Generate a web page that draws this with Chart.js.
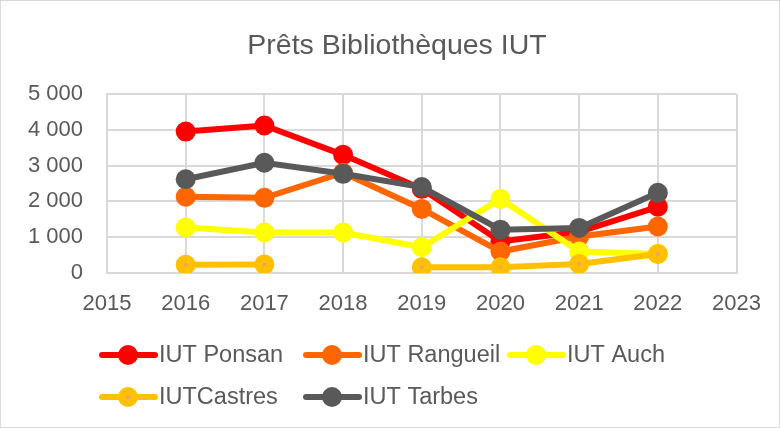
<!DOCTYPE html>
<html>
<head>
<meta charset="utf-8">
<script src="https://cdn.jsdelivr.net/npm/chart.js@4"></script>
<style>
  html, body { margin: 0; padding: 0; background: #fff; }
  #wrap { width: 780px; height: 428px; box-sizing: border-box; border: 1px solid #d9d9d9; position: relative; }
</style>
</head>
<body>
<div id="wrap"><canvas id="c"></canvas></div>
<script>
// données
var title    = "Prêts Bibliothèques IUT";
var years    = [2016, 2017, 2018, 2019, 2020, 2021, 2022];
var ponsan   = [3950, 4120, 3300, 2350, 880, 1150, 1850];
var rangueil = [2130, 2100, 2800, 1790, 600, 1020, 1300];
var auch     = [1270, 1130, 1130, 720, 2070, 600, 530];
var castres  = [230, 240, null, 160, 160, 250, 530];
var tarbes   = [2620, 3080, 2770, 2400, 1210, 1260, 2240];
var yTicks   = [0, 1000, 2000, 3000, 4000, 5000];

var GREY = "#595959", GRID = "#d9d9d9";
var FONT = "'Liberation Sans', Arial, sans-serif";

function pts(vals) {
  return years.map(function(y, i) { return { x: y, y: vals[i] }; });
}

function serie(label, vals, color, order, dot) {
  return {
    label: label,
    data: pts(vals),
    borderColor: color,
    backgroundColor: color,
    borderWidth: 6,
    pointRadius: dot ? 6 : 10,
    pointHoverRadius: dot ? 6 : 10,
    pointBorderWidth: dot ? 8 : 0,
    pointBorderColor: color,
    pointBackgroundColor: dot || color,
    spanGaps: false,
    order: order,
    _dot: dot
  };
}

var datasets = [
  serie("IUT Ponsan", ponsan, "#FF0000", 5),
  serie("IUT Rangueil", rangueil, "#FF6600", 4),
  serie("IUT Auch", auch, "#FFFF00", 3),
  serie("IUTCastres", castres, "#FFC000", 2, "#F4A261"),
  serie("IUT Tarbes", tarbes, "#595959", 1)
];

// titre + légende façon Excel (trait + marqueur, colonnes fixes)
var excelPlugin = {
  id: "xlDeco",
  afterDraw: function(chart) {
    var ctx = chart.ctx;
    ctx.save();
    ctx.fillStyle = GREY;
    ctx.font = "28.5px " + FONT;
    ctx.textAlign = "center";
    ctx.textBaseline = "middle";
    ctx.fillText(title, 396, 45);

    chart.data.datasets.forEach(function(d, i) {
      var col = i < 3 ? i : i - 3, row = i < 3 ? 0 : 1;
      var x = 98 + col * 204;
      var y = 354 + row * 42;
      ctx.strokeStyle = d.borderColor;
      ctx.lineWidth = 6;
      ctx.lineCap = "round";
      ctx.beginPath();
      ctx.moveTo(x + 3, y);
      ctx.lineTo(x + 56, y);
      ctx.stroke();
      ctx.beginPath();
      if (d._dot) {
        ctx.arc(x + 29, y, 6, 0, Math.PI * 2);
        ctx.fillStyle = d._dot;
        ctx.fill();
        ctx.lineWidth = 8;
        ctx.strokeStyle = d.borderColor;
        ctx.stroke();
      } else {
        ctx.arc(x + 29, y, 10, 0, Math.PI * 2);
        ctx.fillStyle = d.borderColor;
        ctx.fill();
      }
      ctx.fillStyle = GREY;
      ctx.font = "23.5px " + FONT;
      ctx.textAlign = "left";
      ctx.fillText(d.label, x + 60, y + 1);
    });
    ctx.restore();
  }
};

new Chart(document.getElementById("c"), {
  type: "line",
  data: { datasets: datasets },
  plugins: [excelPlugin],
  options: {
    responsive: true,
    maintainAspectRatio: false,
    animation: false,
    layout: { padding: { top: 93, right: 42, bottom: 104, left: 0 } },
    plugins: {
      legend: { display: false },
      tooltip: { enabled: false },
      title: { display: false }
    },
    scales: {
      x: {
        type: "linear",
        min: 2015, max: 2023,
        afterFit: function(s) { s.height = 50; },
        ticks: {
          stepSize: 1, color: GREY, padding: 18,
          font: { family: FONT, size: 22 },
          callback: function(v) { return String(v); }
        },
        grid: { color: GRID, lineWidth: 2, drawTicks: false },
        border: { color: GRID, width: 2 }
      },
      y: {
        min: 0, max: 5000,
        afterFit: function(s) { s.width = 106; },
        afterBuildTicks: function(s) { s.ticks = yTicks.map(function(v) { return { value: v }; }); },
        ticks: {
          color: GREY, padding: 24,
          font: { family: FONT, size: 22 },
          callback: function(v) { return String(v).replace(/\B(?=(\d{3})+(?!\d))/g, " "); }
        },
        grid: { color: GRID, lineWidth: 2, drawTicks: false },
        border: { color: GRID, width: 2 }
      }
    }
  }
});
</script>
</body>
</html>
